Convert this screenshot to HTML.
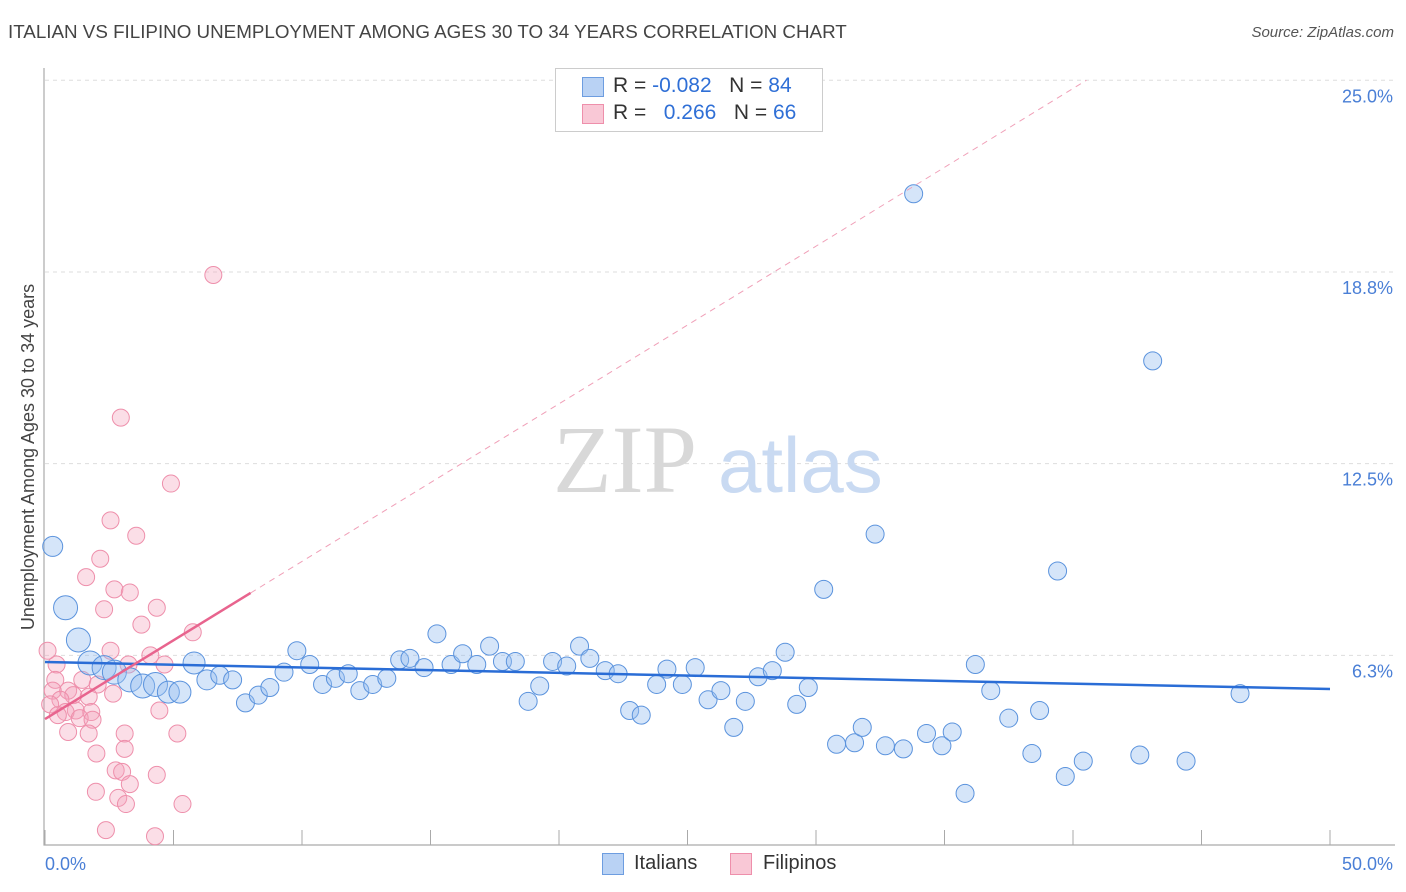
<!DOCTYPE html>
<html><head><meta charset="utf-8"><style>
body{margin:0;background:#fff;font-family:"Liberation Sans",sans-serif}
#wrap{position:relative;width:1406px;height:892px;overflow:hidden}
.t{position:absolute;white-space:nowrap}
</style></head><body>
<div id="wrap">
<div class="t" style="left:8px;top:21px;font-size:18.8px;color:#444">ITALIAN VS FILIPINO UNEMPLOYMENT AMONG AGES 30 TO 34 YEARS CORRELATION CHART</div>
<div class="t" style="right:12px;top:24px;font-size:15px;color:#555;font-style:italic">Source: ZipAtlas.com</div>
<svg id="svg" width="1406" height="892" style="position:absolute;left:0;top:0"></svg>
</div>
<script>
const xTicks=[0,5,10,15,20,25,30,35,40,45,50];
const yTicks=[6.25,12.5,18.75,25];
const yTickLabels=["6.3%","12.5%","18.8%","25.0%"];
const itX=[0.3,0.8,1.3,1.75,2.3,2.7,3.3,3.8,4.3,4.8,5.25,5.8,6.3,6.8,7.3,7.8,8.3,8.75,9.3,9.8,10.3,10.8,11.3,11.8,12.25,12.75,13.3,13.8,14.2,14.75,15.25,15.8,16.25,16.8,17.3,17.8,18.3,18.8,19.25,19.75,20.3,20.8,21.2,21.8,22.3,22.75,23.2,23.8,24.2,24.8,25.3,25.8,26.3,26.8,27.25,27.75,28.3,28.8,29.25,29.7,30.3,30.8,31.5,31.8,32.3,32.7,33.4,33.8,34.3,34.9,35.3,35.8,36.2,36.8,37.5,38.4,38.7,39.4,39.7,40.4,42.6,43.1,44.4,46.5];
const itY=[9.8,7.8,6.75,6.0,5.85,5.7,5.45,5.25,5.3,5.05,5.05,6.0,5.45,5.6,5.45,4.7,4.95,5.2,5.7,6.4,5.95,5.3,5.5,5.65,5.1,5.3,5.5,6.1,6.15,5.85,6.95,5.95,6.3,5.95,6.55,6.05,6.05,4.75,5.25,6.05,5.9,6.55,6.15,5.75,5.65,4.45,4.3,5.3,5.8,5.3,5.85,4.8,5.1,3.9,4.75,5.55,5.75,6.35,4.65,5.2,8.4,3.35,3.4,3.9,10.2,3.3,3.2,21.3,3.7,3.3,3.75,1.75,5.95,5.1,4.2,3.05,4.45,9.0,2.3,2.8,3.0,15.85,2.8,5.0];
const itR=[10,12,12,12,12,12,12,12,12,11,11,11,10];
const fiX=[6.55,2.95,4.9,2.55,3.55,2.15,1.6,2.7,3.3,2.3,4.35,3.75,5.75,2.55,4.1,0.45,3.25,4.65,0.4,1.45,2.05,0.9,0.3,1.1,1.7,2.65,0.6,0.2,1.2,0.8,1.8,0.5,1.35,1.85,4.45,0.9,1.7,3.1,5.15,2.0,3.1,2.75,3.0,4.35,1.98,2.85,3.3,5.35,3.15,2.37,4.28,0.1];
const fiY=[18.65,14.0,11.85,10.65,10.15,9.4,8.8,8.4,8.3,7.75,7.8,7.25,7.0,6.4,6.25,5.95,5.95,5.95,5.45,5.45,5.3,5.1,5.1,4.95,4.9,5.0,4.8,4.65,4.45,4.4,4.4,4.3,4.2,4.15,4.45,3.75,3.7,3.7,3.7,3.05,3.2,2.5,2.45,2.35,1.8,1.6,2.05,1.4,1.4,0.55,0.35,6.4];
const itTrend=[6.03,5.15];
const fiTrend=[4.17,0.514];
const X=v=>45+v*25.7, Y=v=>847-v*30.67;
const NS="http://www.w3.org/2000/svg", svg=document.getElementById('svg');
function mk(tag,attrs){const e=document.createElementNS(NS,tag);for(const k in attrs)e.setAttribute(k,attrs[k]);svg.appendChild(e);return e;}
yTicks.forEach((v,i)=>{
 const g=mk('line',{x1:45,x2:1395,y1:Y(v),y2:Y(v),stroke:'#ddd','stroke-dasharray':'4,4'});
 
 
 const t=mk('text',{x:1393,y:Y(v)+22,'text-anchor':'end','font-size':18,fill:'#4a7fd6'});t.textContent=yTickLabels[i];
 
 
});
const ax=mk('path',{d:'M44,68V845H1395',stroke:'#aaa',fill:'none','stroke-width':1.2});


xTicks.forEach(v=>{const l=mk('line',{x1:X(v),x2:X(v),y1:830,y2:845,stroke:'#aaa'});
 
 });
[[0,'0.0%','start',45],[50,'50.0%','end',1393]].forEach(a=>{const t=mk('text',{x:a[3],y:870,'text-anchor':a[2],'font-size':18,fill:'#4a7fd6'});t.textContent=a[1];
 
 });
const yt=mk('text',{transform:'translate(34,457) rotate(-90)','text-anchor':'middle','font-size':18,fill:'#444'});yt.textContent='Unemployment Among Ages 30 to 34 years';


const w1=mk('text',{x:553,y:492,'font-size':96,fill:'#d8d8d8','font-family':'Liberation Serif'});w1.textContent='ZIP';


const w2=mk('text',{x:718,y:492,'font-size':78,fill:'#c9daf2'});w2.textContent='atlas';


fiX.forEach((x,i)=>{const c=mk('circle',{cx:X(x),cy:Y(fiY[i]),r:8.5,fill:'rgba(244,160,185,0.35)',stroke:'#ee8fab','stroke-width':1});
 
 });
itX.forEach((x,i)=>{const c=mk('circle',{cx:X(x),cy:Y(itY[i]),r:itR[i]||9,fill:'rgba(150,190,240,0.4)',stroke:'#5b93dd','stroke-width':1});
 
 });
const l1=mk('line',{x1:X(0),y1:Y(itTrend[0]),x2:X(50),y2:Y(itTrend[1]),stroke:'#2a6dd6','stroke-width':2.5});


const xEnd=(25-fiTrend[0])/fiTrend[1];
const l2=mk('line',{x1:X(8),y1:Y(fiTrend[0]+8*fiTrend[1]),x2:X(xEnd),y2:Y(25),stroke:'#f0a0b8','stroke-width':1,'stroke-dasharray':'6,5'});


const l3=mk('line',{x1:X(0),y1:Y(fiTrend[0]),x2:X(8),y2:Y(fiTrend[0]+8*fiTrend[1]),stroke:'#e8648e','stroke-width':2.5});


</script>
<div class="t" style="left:555px;top:68px;width:266px;height:62px;border:1px solid #ccc;background:#fff;font-size:21px">
 <div class="t" style="left:26px;top:8px;width:20px;height:18px;background:#b9d2f4;border:1px solid #6d9de0"></div>
 <div class="t" style="left:57px;top:5px;color:#333">R = <span style="color:#2f6fd6">-0.082</span>&nbsp;&nbsp;&nbsp;N = <span style="color:#2f6fd6">84</span></div>
 <div class="t" style="left:26px;top:35px;width:20px;height:18px;background:#f9c8d6;border:1px solid #ee8fab"></div>
 <div class="t" style="left:57px;top:32px;color:#333">R = &nbsp;&nbsp;<span style="color:#2f6fd6">0.266</span>&nbsp;&nbsp;&nbsp;N = <span style="color:#2f6fd6">66</span></div>
</div>
<div class="t" style="left:602px;top:853px;width:20px;height:20px;background:#b9d2f4;border:1px solid #6d9de0"></div>
<div class="t" style="left:634px;top:852px;font-size:20px;color:#333">Italians</div>
<div class="t" style="left:730px;top:853px;width:20px;height:20px;background:#f9c8d6;border:1px solid #ee8fab"></div>
<div class="t" style="left:763px;top:852px;font-size:20px;color:#333">Filipinos</div>
</body></html>
